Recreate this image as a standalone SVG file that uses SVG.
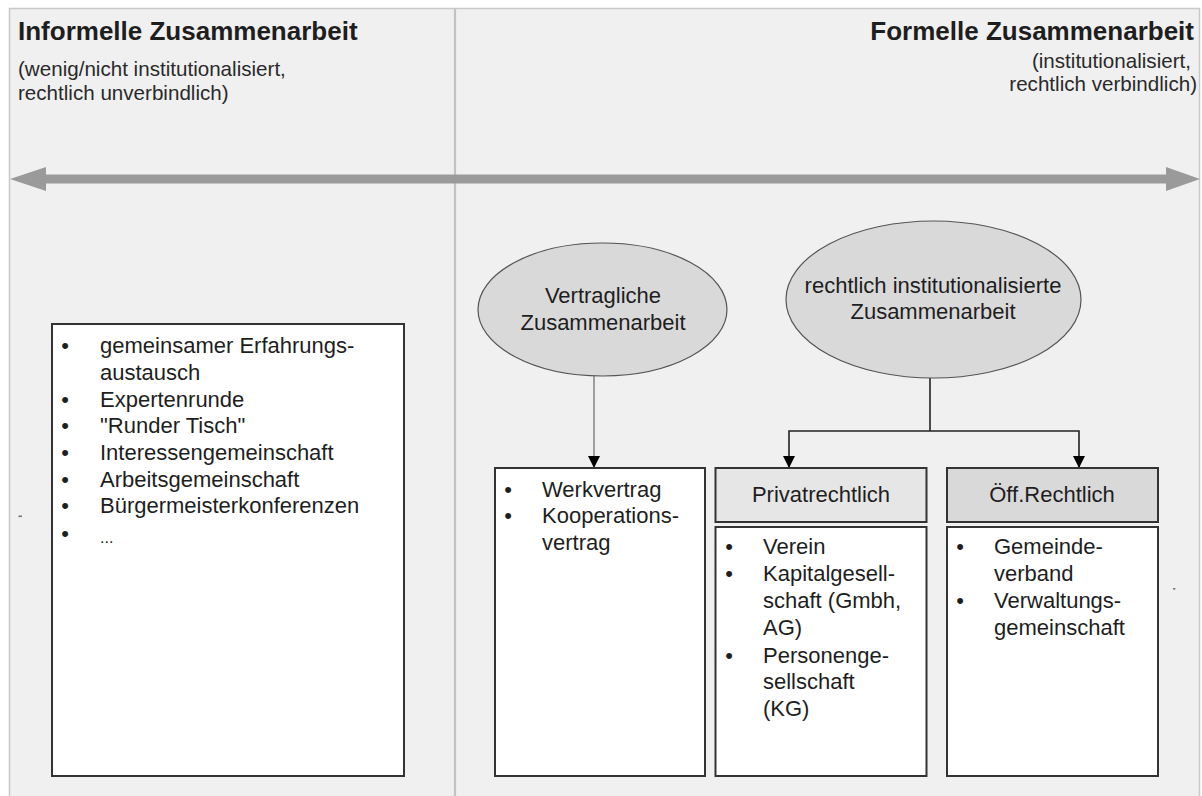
<svg xmlns="http://www.w3.org/2000/svg" width="1202" height="796" viewBox="0 0 1202 796">
  <style>
    text { font-family: "Liberation Sans", Arial, sans-serif; fill: #1e1e1e; }
    .title { font-size: 26px; font-weight: bold; }
    .sub { font-size: 20.6px; fill: #2a2a2a; }
    .body { font-size: 22px; }
    .bul { font-size: 22px; text-anchor: middle; }
    .mid { text-anchor: middle; }
    .box { fill: #ffffff; stroke: #333333; stroke-width: 2; }
    .oval { fill: #d9d9d9; stroke: #555555; stroke-width: 1.2; }
    .link { fill: none; stroke: #222222; stroke-width: 1.6; }
  </style>
  <defs>
    <marker id="tri" viewBox="0 0 12 12" refX="12" refY="6" markerWidth="12" markerHeight="12" markerUnits="userSpaceOnUse" orient="auto">
      <path d="M0,0 L12,6 L0,12 Z" fill="#000000"/>
    </marker>
  </defs>

  <!-- page background and frame -->
  <rect x="0" y="0" width="1202" height="796" fill="#ffffff"/>
  <rect x="9.5" y="8.5" width="1190" height="800" fill="#f0f0f0" stroke="#c8c8c8" stroke-width="1.5"/>
  <line x1="455" y1="9" x2="455" y2="796" stroke="#c2c2c2" stroke-width="2.2"/>

  <!-- scale arrow from informal to formal -->
  <path d="M10,179 L46,167 L46,174.5 L1166,174.5 L1166,167 L1200,179 L1166,191 L1166,183.5 L46,183.5 L46,191 Z" fill="#9a9a9a"/>

  <!-- headings -->
  <g id="heading-informal">
    <text class="title" x="18" y="40">Informelle Zusammenarbeit</text>
    <text class="sub" x="18" y="76">(wenig/nicht institutionalisiert,</text>
    <text class="sub" x="18" y="100">rechtlich unverbindlich)</text>
  </g>
  <g id="heading-formal">
    <text class="title" x="1194" y="40" text-anchor="end">Formelle Zusammenarbeit</text>
    <text class="sub" x="1191" y="68" text-anchor="end">(institutionalisiert,</text>
    <text class="sub" x="1197" y="91" text-anchor="end">rechtlich verbindlich)</text>
  </g>

  <!-- connectors -->
  <g id="connectors">
    <line x1="594" y1="376" x2="594" y2="468" stroke="#8a8a8a" stroke-width="1.6" marker-end="url(#tri)"/>
    <path class="link" d="M930,378 L930,431"/>
    <path class="link" d="M930,431 L789,431 L789,468" marker-end="url(#tri)"/>
    <path class="link" d="M930,431 L1079,431 L1079,468" marker-end="url(#tri)"/>
  </g>

  <!-- informal examples -->
  <g id="informal-list">
    <rect class="box" x="52" y="324" width="352" height="452"/>
    <text class="bul" x="65" y="353">•</text>
    <text class="body" x="100" y="353">gemeinsamer Erfahrungs-</text>
    <text class="body" x="100" y="380">austausch</text>
    <text class="bul" x="65" y="407">•</text>
    <text class="body" x="100" y="407">Expertenrunde</text>
    <text class="bul" x="65" y="433">•</text>
    <text class="body" x="100" y="433">"Runder Tisch"</text>
    <text class="bul" x="65" y="460">•</text>
    <text class="body" x="100" y="460">Interessengemeinschaft</text>
    <text class="bul" x="65" y="487">•</text>
    <text class="body" x="100" y="487">Arbeitsgemeinschaft</text>
    <text class="bul" x="65" y="513">•</text>
    <text class="body" x="100" y="513">Bürgermeisterkonferenzen</text>
    <text class="bul" x="65" y="541">•</text>
    <text class="body" x="100" y="543" style="font-size:16px">...</text>
  </g>

  <!-- contractual cooperation -->
  <g id="vertraglich">
    <ellipse class="oval" cx="602.5" cy="309.5" rx="124.5" ry="66.5"/>
    <text class="body mid" x="603" y="303">Vertragliche</text>
    <text class="body mid" x="603" y="330">Zusammenarbeit</text>
  </g>
  <g id="vertraege">
    <rect class="box" x="495" y="468" width="210" height="308"/>
    <text class="bul" x="508" y="497">•</text>
    <text class="body" x="542" y="497">Werkvertrag</text>
    <text class="bul" x="508" y="523">•</text>
    <text class="body" x="542" y="523">Kooperations-</text>
    <text class="body" x="542" y="550">vertrag</text>
  </g>

  <!-- legally institutionalised cooperation -->
  <g id="institutionalisiert">
    <ellipse class="oval" cx="933.5" cy="299.5" rx="147.5" ry="78.5"/>
    <text class="body mid" x="933" y="293">rechtlich institutionalisierte</text>
    <text class="body mid" x="933" y="319">Zusammenarbeit</text>
  </g>

  <g id="privatrechtlich">
    <rect class="box" x="715.5" y="468" width="211" height="54" style="fill:#e6e6e6"/>
    <text class="body mid" x="821" y="502">Privatrechtlich</text>
    <rect class="box" x="715.5" y="527" width="211" height="249"/>
    <text class="bul" x="729" y="554">•</text>
    <text class="body" x="763" y="554">Verein</text>
    <text class="bul" x="729" y="581">•</text>
    <text class="body" x="763" y="581">Kapitalgesell-</text>
    <text class="body" x="763" y="608">schaft (Gmbh,</text>
    <text class="body" x="763" y="635">AG)</text>
    <text class="bul" x="729" y="663">•</text>
    <text class="body" x="763" y="663">Personenge-</text>
    <text class="body" x="763" y="689">sellschaft</text>
    <text class="body" x="763" y="716">(KG)</text>
  </g>

  <g id="oeffentlich">
    <rect class="box" x="947" y="468" width="211" height="54" style="fill:#d9d9d9"/>
    <text class="body mid" x="1052" y="502">Öff.Rechtlich</text>
    <rect class="box" x="947" y="527" width="211" height="249"/>
    <text class="bul" x="960" y="554">•</text>
    <text class="body" x="994" y="554">Gemeinde-</text>
    <text class="body" x="994" y="581">verband</text>
    <text class="bul" x="960" y="608">•</text>
    <text class="body" x="994" y="608">Verwaltungs-</text>
    <text class="body" x="994" y="635">gemeinschaft</text>
  </g>

  <!-- small marks -->
  <rect x="18.5" y="515.5" width="3.5" height="1.6" fill="#777777"/>
  <rect x="1173" y="588" width="2.4" height="1.6" fill="#777777"/>
</svg>
